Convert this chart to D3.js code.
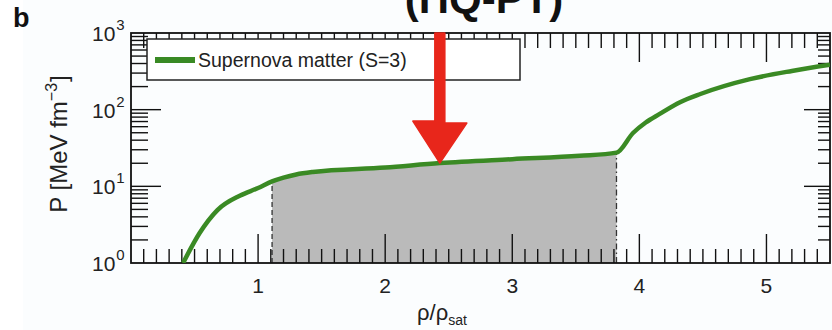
<!DOCTYPE html>
<html>
<head>
<meta charset="utf-8">
<script src="https://cdn.jsdelivr.net/npm/d3@7"></script>
<style>
    html, body { margin: 0; padding: 0; background: #fff; }
    svg { display: block; font-family: 'Liberation Sans', Arial, Helvetica, sans-serif; }
</style>
</head>
<body>
<svg id="chart" width="832" height="330"></svg>
<script>
// supernova matter EoS, S=3
var rho = [0.41, 0.54, 0.68, 0.86, 1.0, 1.11, 1.2, 1.3, 1.43, 2.0, 2.43, 3.0, 3.53, 3.82, 3.95, 4.05, 4.16, 4.32, 4.48, 4.87, 5.2, 5.5];
var pressure = [1.0, 2.46, 4.9, 7.6, 9.5, 11.6, 13.0, 14.3, 15.4, 17.6, 20.1, 22.6, 25.0, 27.5, 49.6, 68, 88, 125, 160, 250, 320, 385];

// mixed phase region
var phaseStart = 1.11;
var phaseEnd = 3.82;
var arrowRho = 2.43;

var xTicks = [1, 2, 3, 4, 5];
var yTicks = [1, 10, 100, 1000];
var legendLabel = 'Supernova matter (S=3)';

var svg = d3.select('#chart');
var width = 832;
var height = 330;

var plotLeft = 131, plotRight = 830, plotTop = 33, plotBottom = 263;

svg.append('rect').attr('width', width).attr('height', height).attr('fill', '#fff');
svg.append('rect').attr('x', 23).attr('width', width - 23).attr('height', height).attr('fill', '#fbfdfe');

var x = d3.scaleLinear().domain([0, 5.5]).range([plotLeft, plotRight]);
var y = d3.scaleLog().domain([1, 1000]).range([plotBottom, plotTop]);

var points = rho.map(function (r, i) {
    return { r: r, p: pressure[i] };
});

svg.append('clipPath').attr('id', 'plotClip')
    .append('rect')
    .attr('x', plotLeft).attr('y', plotTop)
    .attr('width', plotRight - plotLeft).attr('height', plotBottom - plotTop);

var line = d3.line()
    .x(function (d) { return x(d.r); })
    .y(function (d) { return y(d.p); })
    .curve(d3.curveMonotoneX);

// shaded mixed phase
var inside = points.filter(function (d) {
    return d.r >= phaseStart && d.r <= phaseEnd;
});
var area = d3.area()
    .x(function (d) { return x(d.r); })
    .y0(y(1))
    .y1(function (d) { return y(d.p); })
    .curve(d3.curveMonotoneX);

svg.append('path')
    .datum(inside)
    .attr('d', area)
    .attr('fill', '#bababa');

// phase boundaries
var pStart = inside[0].p;
var pEnd = inside[inside.length - 1].p;
svg.append('line')
    .attr('x1', x(phaseStart)).attr('x2', x(phaseStart))
    .attr('y1', y(1)).attr('y2', y(pStart))
    .attr('stroke', '#333').attr('stroke-width', 1.3)
    .attr('stroke-dasharray', '5,3');
svg.append('line')
    .attr('x1', x(phaseEnd)).attr('x2', x(phaseEnd))
    .attr('y1', y(1)).attr('y2', y(pEnd))
    .attr('stroke', '#333').attr('stroke-width', 1.3)
    .attr('stroke-dasharray', '6,3,1.5,3');

// ticks
var g = svg.append('g').attr('stroke', '#111').attr('stroke-width', 1.4);

d3.range(1, 55).forEach(function (i) {
    var v = i / 10;
    var major = i % 10 === 0;
    var xx = x(v);
    g.append('line').attr('x1', xx).attr('x2', xx)
        .attr('y1', plotBottom).attr('y2', plotBottom - (major ? 29 : 14));
    g.append('line').attr('x1', xx).attr('x2', xx)
        .attr('y1', plotTop).attr('y2', plotTop + (major ? 29 : 15));
});

[1, 10, 100].forEach(function (dec) {
    d3.range(1, 10).forEach(function (k) {
        var v = dec * k;
        var yy = y(v);
        var major = k === 1;
        if (v === 1) return;
        g.append('line').attr('x1', plotLeft).attr('x2', plotLeft + (major ? 30 : 17))
            .attr('y1', yy).attr('y2', yy);
        g.append('line').attr('x1', plotRight).attr('x2', plotRight - (major ? 26 : 12))
            .attr('y1', yy).attr('y2', yy);
    });
});

// frame
svg.append('rect')
    .attr('x', plotLeft).attr('y', plotTop)
    .attr('width', plotRight - plotLeft).attr('height', plotBottom - plotTop)
    .attr('fill', 'none').attr('stroke', '#111').attr('stroke-width', 1.8);

// curve
svg.append('path')
    .datum(points)
    .attr('d', line)
    .attr('clip-path', 'url(#plotClip)')
    .attr('fill', 'none')
    .attr('stroke', '#3a8a24')
    .attr('stroke-width', 4.5);

// legend
var lg = svg.append('g');
lg.append('rect')
    .attr('x', 147).attr('y', 39)
    .attr('width', 373).attr('height', 41)
    .attr('fill', '#fff').attr('stroke', '#222').attr('stroke-width', 1.5);
lg.append('line')
    .attr('x1', 155).attr('x2', 195).attr('y1', 60).attr('y2', 60)
    .attr('stroke', '#3a8a24').attr('stroke-width', 6);
lg.append('text')
    .attr('x', 198).attr('y', 67)
    .attr('font-size', 19.5)
    .attr('fill', '#222')
    .text(legendLabel);

// tick labels
svg.selectAll('.xlabel')
    .data(xTicks)
    .enter()
    .append('text')
    .attr('class', 'xlabel')
    .attr('x', function (d) { return x(d); })
    .attr('y', 293)
    .attr('text-anchor', 'middle')
    .attr('font-size', 21)
    .attr('fill', '#222')
    .text(function (d) { return d; });

var yl = svg.selectAll('.ylabel')
    .data(yTicks)
    .enter()
    .append('text')
    .attr('class', 'ylabel')
    .attr('x', 92)
    .attr('y', function (d) { return y(d) + 8; })
    .attr('font-size', 21)
    .attr('fill', '#222');
yl.append('tspan').text('10');
yl.append('tspan')
    .attr('dx', 1)
    .attr('dy', -11)
    .attr('font-size', 15)
    .text(function (d) { return Math.round(Math.log10(d)); });

// axis titles
var yt = svg.append('text')
    .attr('transform', 'translate(67,144) rotate(-90)')
    .attr('text-anchor', 'middle')
    .attr('font-size', 24)
    .attr('fill', '#222');
yt.append('tspan').text('P [MeV fm');
yt.append('tspan').attr('dy', -10).attr('font-size', 16).text('\u22123');
yt.append('tspan').attr('dy', 10).attr('dx', 1).text(']');

var xt = svg.append('text')
    .attr('x', 417).attr('y', 320)
    .attr('font-size', 22)
    .attr('fill', '#222');
xt.append('tspan').text('\u03c1/\u03c1');
xt.append('tspan').attr('dy', 5).attr('font-size', 14).text('sat');

// panel letter and title
svg.append('text')
    .attr('x', 13).attr('y', 27)
    .attr('font-size', 27).attr('font-weight', 'bold')
    .attr('fill', '#111')
    .text('b');

svg.append('text')
    .attr('x', 484).attr('y', 13)
    .attr('text-anchor', 'middle')
    .attr('font-size', 42).attr('font-weight', 'bold')
    .attr('fill', '#111')
    .text('(HQ-PT)');

// red arrow pointing at the curve
var ax = x(arrowRho);
var pArrow = points.filter(function (d) { return d.r === arrowRho; })[0].p;
var tipY = y(pArrow);
svg.append('path')
    .attr('d', 'M' + (ax - 5) + ',' + plotTop + ' L' + (ax + 5) + ',' + plotTop +
        ' L' + (ax + 5) + ',' + (tipY - 40) + ' L' + (ax + 27) + ',' + (tipY - 40) +
        ' L' + ax + ',' + tipY + ' L' + (ax - 27) + ',' + (tipY - 42) +
        ' L' + (ax - 5) + ',' + (tipY - 42) + ' Z')
    .attr('fill', '#e8261b')
    .attr('stroke', '#e8261b')
    .attr('stroke-width', 1.5)
    .attr('stroke-linejoin', 'round');
</script>
</body>
</html>
